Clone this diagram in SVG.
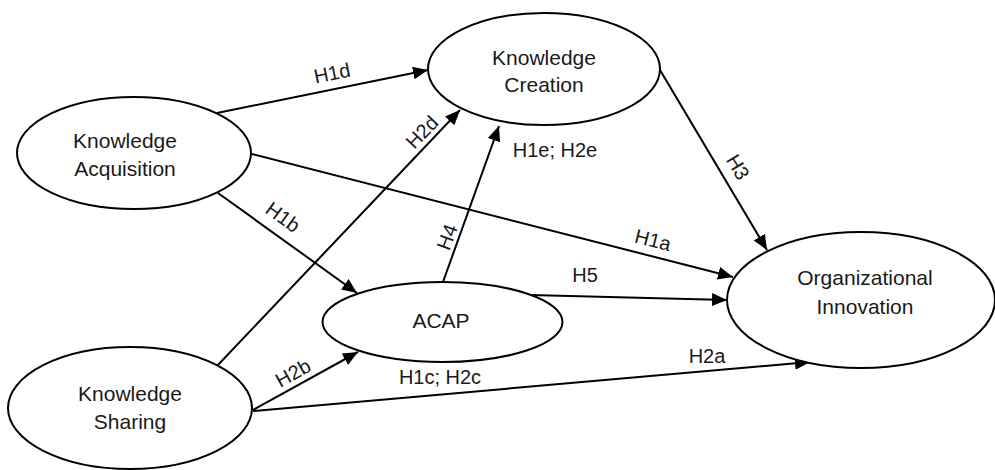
<svg xmlns="http://www.w3.org/2000/svg" width="995" height="470" viewBox="0 0 995 470">
<style>
.node ellipse{fill:#fff;stroke:#000;stroke-width:2}
.node text{font-family:"Liberation Sans",Arial,sans-serif;font-size:21px;fill:#1a1a1a;text-anchor:middle}
.edges line{stroke:#000;stroke-width:2;marker-end:url(#arr)}
.lbl{font-family:"Liberation Sans",Arial,sans-serif;font-size:20px;fill:#1a1a1a;text-anchor:middle}
</style>
<defs>
<marker id="arr" markerUnits="userSpaceOnUse" markerWidth="16" markerHeight="14" refX="15" refY="6.5" orient="auto">
<path d="M0,0 L15,6.5 L0,13 z" fill="#000"/>
</marker>
</defs>
<rect width="995" height="470" fill="#fff"/>
<g class="edges" id="connectors">
<line x1="217" y1="113" x2="428" y2="70"/>
<line x1="217" y1="366" x2="460" y2="110"/>
<line x1="252" y1="154" x2="733" y2="277"/>
<line x1="218" y1="193" x2="357" y2="293"/>
<line x1="443" y1="282" x2="499" y2="126"/>
<line x1="660" y1="70" x2="767" y2="250"/>
<line x1="530" y1="295" x2="727" y2="300"/>
<line x1="253" y1="410" x2="358" y2="352"/>
<line x1="253" y1="411" x2="810" y2="362"/>
<text class="lbl" transform="translate(332,73) rotate(-11.5)" y="7">H1d</text>
<text class="lbl" transform="translate(422,132) rotate(-46)" y="7">H2d</text>
<text class="lbl" transform="translate(653,240) rotate(14.3)" y="7">H1a</text>
<text class="lbl" transform="translate(283,217) rotate(36)" y="7">H1b</text>
<text class="lbl" transform="translate(447,237) rotate(-70)" y="7">H4</text>
<text class="lbl" transform="translate(738,167) rotate(59)" y="7">H3</text>
<text class="lbl" transform="translate(293,373) rotate(-29)" y="7">H2b</text>
<text class="lbl" x="555" y="157">H1e; H2e</text>
<text class="lbl" x="585" y="282">H5</text>
<text class="lbl" x="440" y="384">H1c; H2c</text>
<text class="lbl" x="707" y="363">H2a</text>
</g>
<g class="node" id="knowledge-acquisition">
<ellipse cx="134" cy="153" rx="117" ry="56"/>
<text x="125" y="148">Knowledge</text>
<text x="125" y="176">Acquisition</text>
</g>
<g class="node" id="knowledge-creation">
<ellipse cx="544" cy="69" rx="116" ry="56"/>
<text x="544" y="65">Knowledge</text>
<text x="544" y="92">Creation</text>
</g>
<g class="node" id="acap">
<ellipse cx="442.5" cy="322" rx="120" ry="40"/>
<text x="441" y="328">ACAP</text>
</g>
<g class="node" id="knowledge-sharing">
<ellipse cx="130" cy="408" rx="122" ry="61"/>
<text x="130" y="401">Knowledge</text>
<text x="130" y="429">Sharing</text>
</g>
<g class="node" id="organizational-innovation">
<ellipse cx="861" cy="300" rx="134" ry="68"/>
<text x="865" y="285">Organizational</text>
<text x="865" y="314">Innovation</text>
</g>
</svg>
